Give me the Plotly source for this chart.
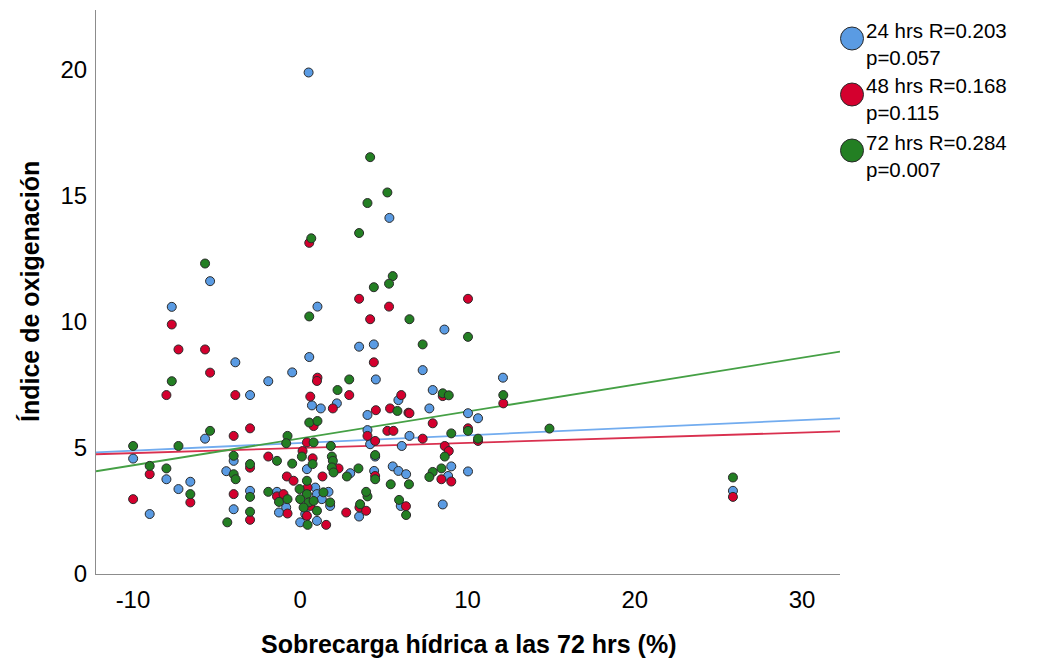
import plotly.graph_objects as go

# ---------------- data ----------------
series_names = ["24 hrs", "48 hrs", "72 hrs"]
r_values = ["0.203", "0.168", "0.284"]
p_values = ["0.057", "0.115", "0.007"]

x24 = [0.5, 5.33, -5.39, -7.68, 1.03, 8.62, 3.52, 4.4, 0.54, -3.88, -0.48, 7.32, -1.91, 4.52, 12.12,
       -3.0, 0.70, 1.23, 2.19, 5.87, 4.02, 7.92, 7.72, 10.03, 10.63, 4.02, 4.18, 6.07, 6.53, -5.69,
       -9.99, -3.98, -8.0, -4.42, -7.28, -6.57, -9.0, -3.0, -1.39, -0.84, -1.27, -3.98, 0.40, 2.99,
       4.48, 4.42, 5.53, 5.87, 6.33, 0.90, 1.0, 1.69, 1.29, 1.79, 0.30, 0.0, 1.0, 3.52, 6.01, 9.03,
       10.03, 8.84, 8.52, 25.87]
y24 = [19.9, 14.13, 11.62, 10.6, 10.61, 9.7, 9.02, 9.11, 8.61, 8.4, 8.0, 8.09, 7.65, 7.72, 7.79,
       7.1, 6.69, 6.57, 6.77, 6.9, 6.31, 7.30, 6.57, 6.38, 6.18, 5.71, 5.15, 5.08, 5.48, 5.37,
       4.58, 4.49, 3.76, 4.08, 3.37, 3.66, 2.38, 3.30, 3.26, 2.64, 2.44, 2.57, 4.16, 4.0,
       4.66, 4.09, 4.27, 4.09, 3.96, 3.43, 3.17, 3.26, 2.97, 2.70, 2.38, 2.05, 2.11, 2.28, 2.70, 4.27,
       4.07, 3.89, 2.76, 3.30]

x48 = [-7.68, -7.28, -5.69, -5.39, -8.0, -3.88, -3.98, -3.0, -1.91, -3.0, -9.0, -6.57, -9.99, -3.98,
       -1.39, -0.76, -3.0, 0.54, 3.52, 10.03, 5.31, 4.18, 4.40, 1.03, 1.0, 0.60, 2.93, 1.95, 6.04,
       5.37, 6.47, 4.52, 0.80, 4.02, 5.21, 5.57, 4.48, 0.40, 0.14, 0.74, 2.29, 1.33, 4.48, -0.80,
       -0.40, 0.44, -1.0, 0.60, 0.40, 1.55, 2.75, 3.54, 3.94, 6.32, 6.53, 7.92, 7.32, 10.03, 10.63,
       8.64, 8.88, 8.44, 9.03, 8.52, 12.14, 25.87]
y48 = [9.9, 8.91, 8.91, 7.99, 7.10, 7.10, 5.48, 5.78, 4.66, 4.22, 3.96, 2.84, 2.97, 3.17,
       3.08, 2.40, 2.15, 13.14, 10.92, 10.92, 10.61, 10.11, 8.40, 7.79, 7.66, 7.04, 7.10, 6.57, 7.10,
       6.57, 6.40, 6.50, 5.87, 5.48, 5.68, 5.68, 5.28, 5.22, 4.88, 4.59, 4.19, 3.87, 3.89, 3.87,
       3.70, 3.43, 3.17, 2.70, 2.31, 1.95, 2.44, 2.64, 2.51, 2.69, 6.38, 5.98, 5.37, 5.78, 5.28,
       5.08, 4.88, 3.76, 3.67, 7.06, 6.77, 3.06]

x72 = [-5.69, -7.68, -5.39, -9.99, -7.28, -3.98, -0.76, -0.84, -1.39, -0.48, -9.0, -8.0, -3.0, -3.98,
       -3.86, -6.57, -3.0, -1.91, -1.27, -0.76, -3.0, -4.36, 4.18, 5.21, 4.02, 3.52, 0.66, 5.53, 5.31,
       4.40, 0.54, 6.53, 10.03, 7.32, 2.93, 2.23, 5.81, 0.54, 1.03, 0.80, 1.83, 0.10, 0.74, 1.89,
       1.95, 1.89, 1.99, 2.79, 3.48, 4.48, 4.48, 5.41, 6.50, 0.40, -0.04, 1.39, 0.40, 0.0, 0.50,
       0.80, 1.79, 0.20, 1.0, 0.44, 3.58, 4.02, 3.94, 5.91, 6.33, 8.52, 8.88, 12.14, 9.03, 10.03,
       10.63, 14.9, 8.64, 8.44, 7.92, 7.72, 25.87]
y72 = [12.32, 7.65, 5.68, 5.08, 5.08, 4.69, 5.48, 5.19, 4.49, 4.38, 4.29, 4.19, 4.36, 3.96,
       3.76, 3.17, 3.06, 3.26, 2.86, 2.97, 2.47, 2.05, 16.54, 15.14, 14.72, 13.53, 13.32, 11.82, 11.52,
       11.38, 10.22, 10.11, 9.41, 9.11, 7.72, 7.30, 6.47, 6.01, 6.07, 5.22, 5.08, 4.66, 4.36, 4.66,
       4.49, 4.23, 4.03, 3.87, 4.19, 4.72, 3.76, 3.56, 3.56, 3.70, 3.37, 3.24, 3.17, 2.97, 2.84,
       2.90, 2.84, 2.64, 2.51, 1.95, 2.77, 3.08, 3.26, 2.94, 2.34, 7.17, 7.09, 7.10, 5.58, 5.68,
       5.37, 5.77, 4.66, 4.19, 4.05, 3.85, 3.83]

# linear fit lines (intercept, slope)
fit_intercepts = [5.20, 5.00, 5.38]
fit_slopes = [0.0303, 0.0204, 0.1067]

x_ticks = [-10, 0, 10, 20, 30]
x_tick_labels = ["-10", "0", "10", "20", "30"]
y_ticks = [0, 5, 10, 15, 20]
y_tick_labels = ["0", "5", "10", "15", "20"]
x_range = [-12.21, 32.27]
y_range = [0, 22.38]

# ---------------- style ----------------
marker_colors = ["#5A9BE3", "#D4002E", "#237F23"]
line_colors = ["#72ACEF", "#D9304F", "#45A045"]
FONT = "Liberation Sans, Arial, sans-serif"

xs = [x24, x48, x72]
ys = [y24, y48, y72]

fig = go.Figure()

# fit lines first (markers drawn on top)
for i in range(3):
    lx = [x_range[0], x_range[1]]
    ly = [fit_intercepts[i] + fit_slopes[i] * v for v in lx]
    fig.add_trace(go.Scatter(x=lx, y=ly, mode="lines",
                             line=dict(color=line_colors[i], width=1.8),
                             showlegend=False, hoverinfo="skip"))

for i in range(3):
    fig.add_trace(go.Scatter(x=xs[i], y=ys[i], mode="markers",
                             marker=dict(size=9, color=marker_colors[i],
                                         line=dict(color="#2a2a2a", width=1)),
                             name=series_names[i], showlegend=False))

# ---------------- manual legend ----------------
L, R, T, B = 96, 209, 10, 88
W, H = 1049, 662
pw, ph = W - L - R, H - T - B

def px_to_paper_x(px):
    return (px - L) / pw

def px_to_paper_y(py):
    return (H - B - py) / ph

legend_centers = [38.5, 94.5, 150.5]
for i in range(3):
    cy = legend_centers[i]
    fig.add_shape(type="circle", xref="paper", yref="paper",
                  xsizemode="pixel", ysizemode="pixel",
                  xanchor=px_to_paper_x(852), yanchor=px_to_paper_y(cy),
                  x0=-11.5, x1=11.5, y0=-11.5, y1=11.5,
                  fillcolor=marker_colors[i], line=dict(color="#2a2a2a", width=1))
    fig.add_annotation(xref="paper", yref="paper", x=px_to_paper_x(864),
                       y=px_to_paper_y(cy + 5), xanchor="left", yanchor="middle",
                       text=f"{series_names[i]} R={r_values[i]}<br>p={p_values[i]}",
                       showarrow=False, align="left",
                       font=dict(family=FONT, size=20.5, color="black"))

# axis titles
fig.add_annotation(xref="paper", yref="paper", x=0.5, y=px_to_paper_y(644),
                   xanchor="center", yanchor="middle", showarrow=False,
                   text="<b>Sobrecarga hídrica a las 72 hrs (%)</b>",
                   font=dict(family=FONT, size=25, color="black"))
fig.add_annotation(xref="paper", yref="paper", x=px_to_paper_x(30), y=0.5,
                   xanchor="center", yanchor="middle", showarrow=False, textangle=-90,
                   text="<b>Índice de oxigenación</b>",
                   font=dict(family=FONT, size=25, color="black"))

fig.update_layout(
    width=W, height=H,
    margin=dict(l=L, r=R, t=T, b=B),
    plot_bgcolor="white", paper_bgcolor="white",
    font=dict(family=FONT, size=24, color="black"),
    showlegend=False,
)
fig.update_xaxes(range=x_range, tickvals=x_ticks, ticktext=x_tick_labels,
                 showgrid=False, zeroline=False,
                 showline=True, linecolor="#8c8c8c", linewidth=1, ticks="",
                 ticklabelstandoff=4, tickfont=dict(size=24, family=FONT, color="black"))
fig.update_yaxes(range=y_range, tickvals=y_ticks, ticktext=y_tick_labels,
                 showgrid=False, zeroline=False,
                 showline=True, linecolor="#8c8c8c", linewidth=1, ticks="",
                 ticklabelstandoff=3, tickfont=dict(size=24, family=FONT, color="black"))

fig.write_html("out.html")
